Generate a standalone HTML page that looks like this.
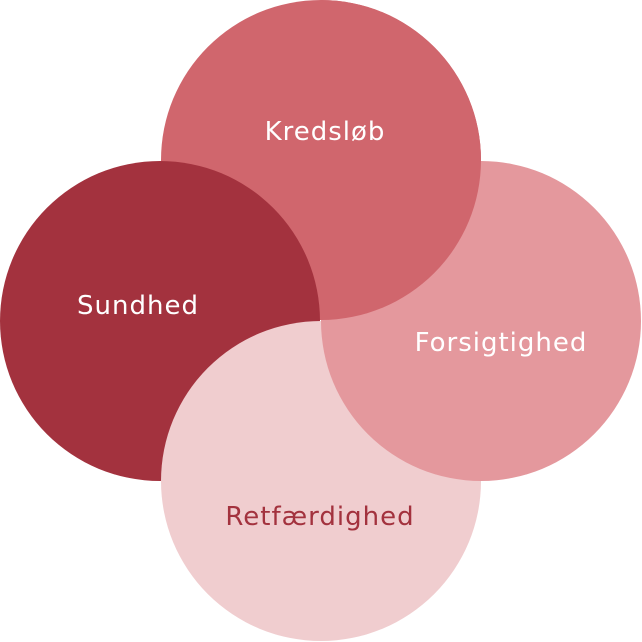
<!DOCTYPE html>
<html><head><style>html,body{margin:0;padding:0;background:#fff}svg{display:block}</style></head>
<body>
<svg width="642" height="642" viewBox="0 0 642 642" xmlns="http://www.w3.org/2000/svg">
<defs><clipPath id="c"><rect x="321" y="0" width="321" height="321"/></clipPath></defs>
<circle cx="321" cy="160" r="160" fill="#d0666d"/>
<circle cx="160" cy="321" r="160" fill="#a3323e"/>
<circle cx="321" cy="481" r="160" fill="#f0cdcf"/>
<circle cx="481" cy="321" r="160" fill="#e4989d"/>
<circle cx="321" cy="160" r="160" fill="#d0666d" clip-path="url(#c)"/>
<g font-family="DejaVu Sans, sans-serif" font-size="26" text-anchor="middle" letter-spacing="1">
<text x="325" y="140" fill="#fff">Kredsløb</text>
<text x="138" y="314" fill="#fff">Sundhed</text>
<text x="501" y="351" fill="#fff">Forsigtighed</text>
<text x="320" y="525" fill="#a3323e">Retfærdighed</text>
</g>
</svg>
</body></html>
